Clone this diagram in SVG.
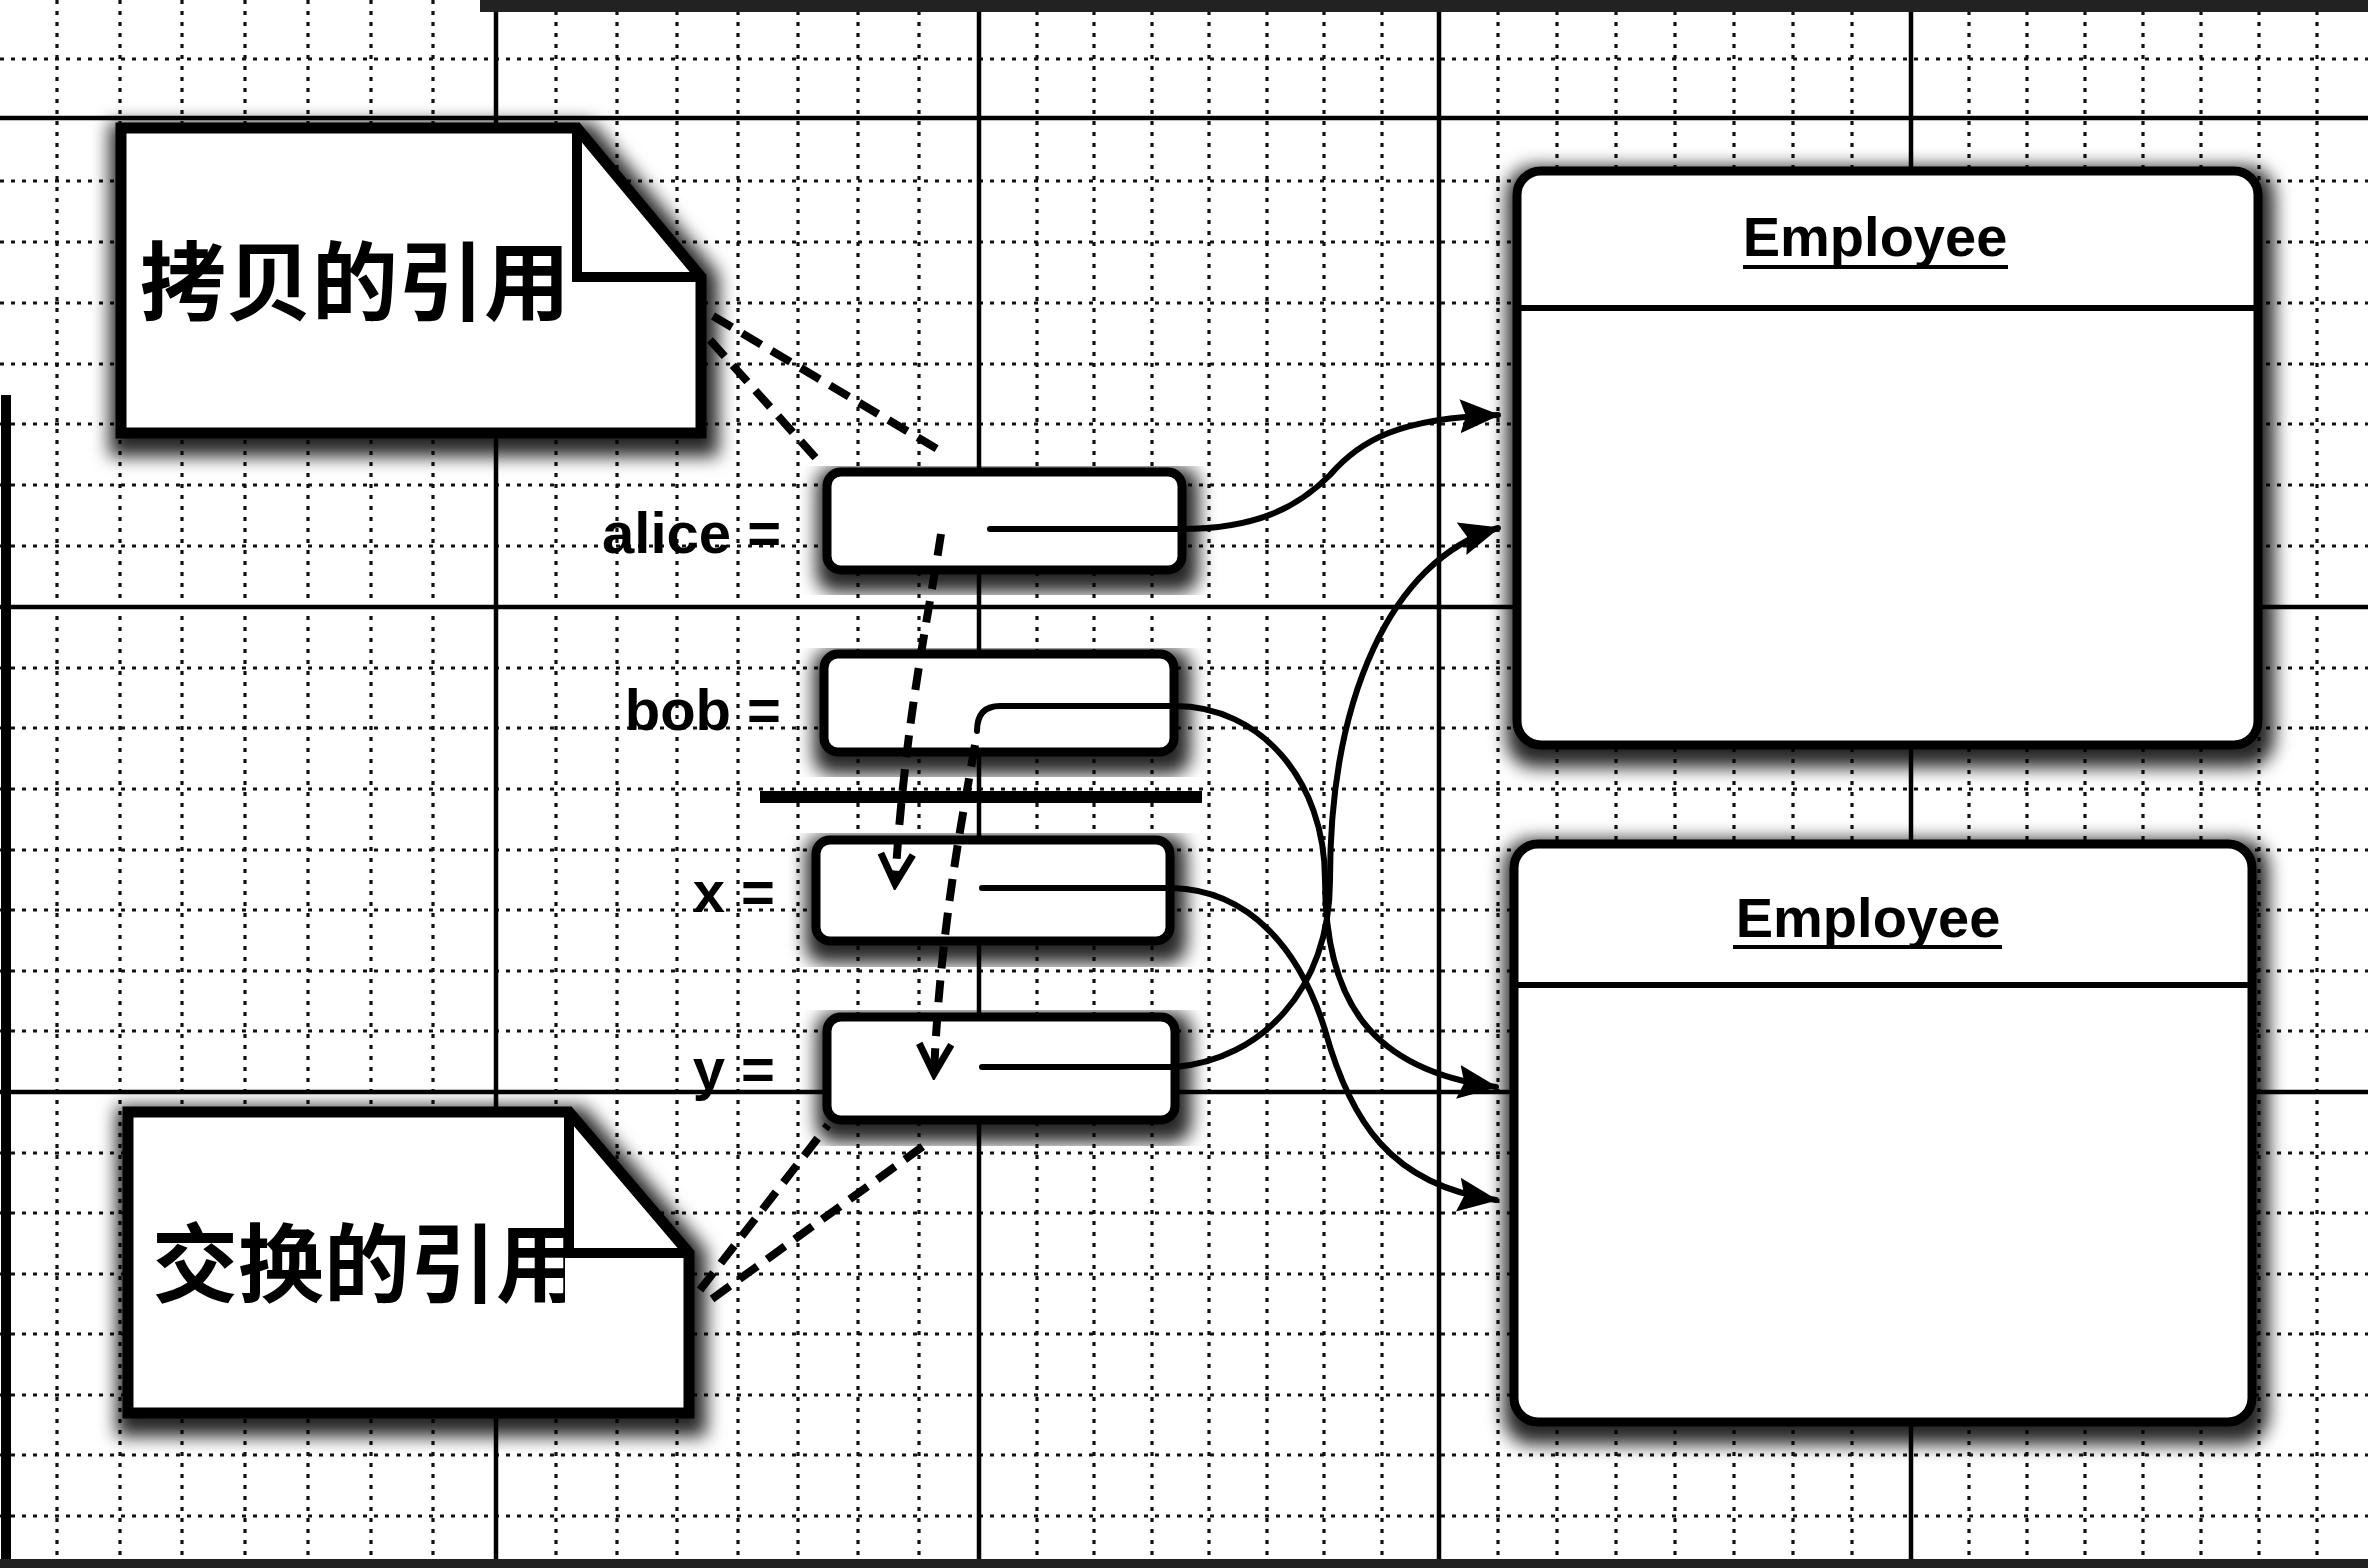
<svg xmlns="http://www.w3.org/2000/svg" width="2368" height="1568" viewBox="0 0 2368 1568">
<style>
.minor{stroke:#111;stroke-width:3.2;stroke-dasharray:4 7;fill:none}
.major{stroke:#000;stroke-width:4.5;fill:none}
.box{fill:#fff;stroke:#000;stroke-width:9}
.note{fill:#fff;stroke:#000;stroke-width:11;stroke-linejoin:miter}
.fold{fill:none;stroke:#000;stroke-width:10}
.cjk{font-family:"Noto Sans CJK SC","Noto Sans",sans-serif;font-weight:700;font-size:86px;fill:#000}
.lbl{font-family:"Liberation Sans",Arial,sans-serif;font-weight:700;font-size:58px;fill:#000}
.cls{font-family:"Liberation Sans",Arial,sans-serif;font-weight:700;font-size:56px;fill:#000}
.ref{fill:none;stroke:#000;stroke-width:6;stroke-linecap:round}
.dash{fill:none;stroke:#000;stroke-width:8;stroke-dasharray:22 12}
</style>
<defs>
<filter id="sh" x="-15%" y="-15%" width="135%" height="140%">
<feMorphology in="SourceAlpha" operator="dilate" radius="9" result="d"/>
<feGaussianBlur in="d" stdDeviation="9"/>
<feOffset dx="3" dy="9" result="b"/>
<feFlood flood-color="#000" flood-opacity="0.85"/>
<feComposite in2="b" operator="in"/>
<feMerge><feMergeNode/><feMergeNode in="SourceGraphic"/></feMerge>
</filter>
<marker id="ah" markerUnits="userSpaceOnUse" markerWidth="40" markerHeight="40" viewBox="0 0 40 40" refX="38" refY="20" orient="auto"><path d="M0,3 L40,20 L0,37 L6,20 Z" fill="#000"/></marker>
<marker id="vh" markerUnits="userSpaceOnUse" markerWidth="44" markerHeight="44" viewBox="0 0 44 44" refX="38" refY="22" orient="auto"><path d="M8,6 L38,22 L8,38" fill="none" stroke="#000" stroke-width="7"/></marker>
<clipPath id="c1"><rect x="121" y="128" width="452" height="305"/></clipPath>
<clipPath id="c2"><rect x="128" y="1112" width="437" height="301"/></clipPath>
</defs>
<rect x="0" y="0" width="2368" height="1568" fill="#fff"/>
<g id="grid">
<path class="minor" d="M57,0V1568M120,0V1568M182,0V1568M245,0V1568M308,0V1568M371,0V1568M433,0V1568M556,0V1568M617,0V1568M677,0V1568M738,0V1568M798,0V1568M858,0V1568M919,0V1568M1037,0V1568M1094,0V1568M1152,0V1568M1209,0V1568M1267,0V1568M1324,0V1568M1382,0V1568M1498,0V1568M1557,0V1568M1616,0V1568M1675,0V1568M1734,0V1568M1793,0V1568M1852,0V1568M1969,0V1568M2027,0V1568M2085,0V1568M2143,0V1568M2201,0V1568M2259,0V1568M2317,0V1568"/>
<path class="minor" d="M0,59H2368M0,181H2368M0,242H2368M0,303H2368M0,364H2368M0,424H2368M0,485H2368M0,546H2368M0,668H2368M0,728H2368M0,789H2368M0,850H2368M0,910H2368M0,971H2368M0,1031H2368M0,1153H2368M0,1213H2368M0,1274H2368M0,1334H2368M0,1395H2368M0,1455H2368M0,1516H2368"/>
<path class="major" d="M496,0V1568M979,0V1568M1439,0V1568M1911,0V1568M0,118H2368M0,607H2368M0,1092H2368"/>
<path d="M6,395V1568" stroke="#000" stroke-width="10"/>
<rect x="480" y="0" width="1888" height="12" fill="#222"/>
<rect x="0" y="1559" width="2368" height="9" fill="#222"/>
</g>
<g id="note-copy">
<path class="note" filter="url(#sh)" d="M121,128H577L701,277V433H121Z"/>
<text class="cjk" x="140" y="314" clip-path="url(#c1)">拷贝的引用</text>
<path class="fold" d="M577,132V277H697"/>
</g>
<g id="note-swap">
<path class="note" filter="url(#sh)" d="M128,1112H569L689,1253V1413H128Z"/>
<text class="cjk" x="152" y="1296" clip-path="url(#c2)">交换的引用</text>
<path class="fold" d="M569,1116V1253H685"/>
</g>
<g id="var-alice">
<text class="lbl" x="781" y="553" text-anchor="end">alice =</text>
<rect class="box" filter="url(#sh)" x="827" y="472" width="355" height="98" rx="14"/>
</g>
<g id="var-bob">
<text class="lbl" x="781" y="730" text-anchor="end">bob =</text>
<rect class="box" filter="url(#sh)" x="824" y="654" width="350" height="98" rx="14"/>
</g>
<g id="separator">
<path d="M760,797H1202" stroke="#000" stroke-width="12"/>
</g>
<g id="var-x">
<text class="lbl" x="775" y="912" text-anchor="end">x =</text>
<rect class="box" filter="url(#sh)" x="816" y="840" width="354" height="101" rx="14"/>
</g>
<g id="var-y">
<text class="lbl" x="775" y="1089" text-anchor="end">y =</text>
<rect class="box" filter="url(#sh)" x="827" y="1017" width="348" height="103" rx="14"/>
</g>
<g id="employee-1">
<rect class="box" filter="url(#sh)" x="1517" y="171" width="741" height="574" rx="24"/>
<path d="M1517,308H2258" stroke="#000" stroke-width="6"/>
<text class="cls" x="1875" y="256" text-anchor="middle">Employee</text>
<path d="M1743,267H2008" stroke="#000" stroke-width="4"/>
</g>
<g id="employee-2">
<rect class="box" filter="url(#sh)" x="1514" y="844" width="738" height="578" rx="24"/>
<path d="M1514,985H2252" stroke="#000" stroke-width="6"/>
<text class="cls" x="1868" y="937" text-anchor="middle">Employee</text>
<path d="M1733,947H2002" stroke="#000" stroke-width="4"/>
</g>
<g id="connectors">
<path class="dash" d="M713,316L944,453"/>
<path class="dash" d="M710,340L823,466"/>
<path class="dash" d="M700,1290L828,1125"/>
<path class="dash" d="M712,1299L929,1142"/>
<path class="ref" marker-end="url(#ah)" d="M990,529H1180C1260,529 1300,505 1330,475C1360,440 1400,418 1498,415"/>
<path class="ref" marker-end="url(#ah)" d="M977,731Q977,706 1000,706H1175C1260,706 1325,780 1325,880C1325,1000 1370,1070 1496,1087"/>
<path class="ref" marker-end="url(#ah)" d="M982,888H1172C1250,890 1300,950 1325,1030C1350,1120 1390,1185 1496,1200"/>
<path class="ref" marker-end="url(#ah)" d="M982,1067H1175C1260,1060 1330,990 1330,880C1330,700 1390,560 1498,528"/>
<path class="dash" marker-end="url(#vh)" d="M941,534C928,620 905,720 895,884"/>
<path class="dash" marker-end="url(#vh)" d="M975,745C962,820 940,930 934,1074"/>
</g>
</svg>
